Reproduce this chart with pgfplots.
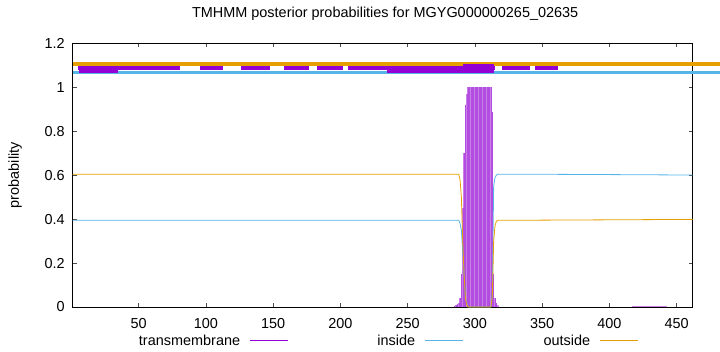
\documentclass[border=0pt]{standalone}
\usepackage{fontspec}
\setmainfont{Liberation Sans}
\usepackage{pgfplots}
\pgfplotsset{compat=1.18}
\definecolor{tmviolet}{RGB}{148,0,211}
\definecolor{insideblue}{RGB}{86,180,233}
\definecolor{outsideorange}{RGB}{230,159,0}
\pgfplotsset{
  tmleg/.style={legend image code/.code={\fill[fill=tmviolet, draw=none] (0bp,-0.5bp) rectangle (38bp,0.5bp);}},
  inleg/.style={legend image code/.code={\fill[fill=insideblue, draw=none] (0bp,-0.5bp) rectangle (38bp,0.5bp);}},
  outleg/.style={legend image code/.code={\fill[fill=outsideorange, draw=none] (0bp,-0.5bp) rectangle (38bp,0.5bp);}},
}
\begin{document}
\fontsize{14.5}{17}\selectfont
\begin{tikzpicture}
\begin{axis}[
  at={(72.7bp,45bp)}, anchor=south west,
  scale only axis, width=620bp, height=263.5bp,
  xmin=1, xmax=462, ymin=0, ymax=1.2,
  xtick={50,100,150,200,250,300,350,400,450},
  ytick={0,0.2,0.4,0.6,0.8,1,1.2},
  tick align=inside, major tick length=4bp,
  tick style={black!70, line width=0.6bp},
  axis line style={black, line width=0.8bp},
  clip=false,
  /pgf/number format/assume math mode=true,
  ticklabel style={font=\fontsize{14.5}{17}\selectfont},
  yticklabel style={xshift=-3bp},
  xticklabel style={yshift=-6bp},
  title={TMHMM posterior probabilities for MGYG000000265\_02635},
  title style={at={(axis description cs:0.504,1.089)}, anchor=center, font=\fontsize{14.5}{17}\selectfont},
  ylabel={probability},
  ylabel style={at={(axis description cs:-0.093,0.5)}, anchor=center, font=\fontsize{14.5}{17}\selectfont},
  legend columns=3, legend plot pos=right,
  legend style={at={(axis description cs:0.081,-0.129)}, anchor=west, draw=none, fill=none,
    inner sep=0pt, column sep=10bp, font=\fontsize{14.5}{17}\selectfont,
    nodes={text width=117bp, align=right, inner sep=0pt}},
]
% transmembrane posterior as impulses (light body plus darker strokes)
\addplot[ycomb, draw=tmviolet!50!white, line width=1.35bp, forget plot] coordinates {
(285,0.005)(286,0.008)(287,0.012)(288,0.02)(289,0.04)(290,0.15)(291,0.45)(292,0.7)(293,0.92)(294,0.97)
(295,1)(296,1)(297,1)(298,1)(299,1)(300,1)(301,1)(302,1)(303,1)(304,1)(305,1)(306,1)(307,1)(308,1)(309,1)(310,1)(311,1)(312,1)
(313,0.89)(314,0.15)(315,0.04)(316,0.02)(317,0.01)
};
\addplot[ycomb, draw=tmviolet, line width=0.35bp, opacity=0.4, forget plot] coordinates {
(285,0.005)(286,0.008)(287,0.012)(288,0.02)(289,0.04)(290,0.15)(291,0.45)(292,0.7)(293,0.92)(294,0.97)
(295,1)(296,1)(297,1)(298,1)(299,1)(300,1)(301,1)(302,1)(303,1)(304,1)(305,1)(306,1)(307,1)(308,1)(309,1)(310,1)(311,1)(312,1)
(313,0.89)(314,0.15)(315,0.04)(316,0.02)(317,0.01)
};
\addplot[draw=tmviolet, line width=0.6bp, opacity=0.5, forget plot] coordinates {
(417,0.003)(420,0.003)(425,0.003)(430,0.003)(435,0.003)(440,0.003)(443,0.003)
};
% inside
\addplot[draw=insideblue, line width=0.8bp, forget plot] coordinates {
(1,0.395)(150,0.395)(286,0.395)(288,0.395)(289,0.38)(290,0.35)(291,0.25)(292,0.15)(293,0.04)(294,0.02)(295,0)
(312,0)(313,0.06)(314,0.55)(315,0.59)(316,0.6)(317,0.605)(330,0.605)(400,0.603)(462,0.601)
};
% outside
\addplot[draw=outsideorange, line width=0.8bp, forget plot] coordinates {
(1,0.605)(150,0.605)(286,0.605)(288,0.605)(289,0.58)(290,0.5)(291,0.3)(292,0.15)(293,0.04)(294,0.01)(295,0)
(312,0)(313,0.05)(314,0.3)(315,0.37)(316,0.39)(317,0.395)(330,0.395)(400,0.397)(462,0.399)
};
\addlegendimage{tmleg}
\addlegendentry{transmembrane}
\addlegendimage{inleg}
\addlegendentry{inside}
\addlegendimage{outleg}
\addlegendentry{outside}
% topology bars at the top
\addplot[draw=outsideorange, line width=3.3bp, forget plot] coordinates {(1,1.107)(482,1.107)};
\addplot[draw=insideblue, line width=2.7bp, forget plot] coordinates {(1,1.068)(482,1.068)};
\addplot[draw=tmviolet, line width=4bp, forget plot] coordinates {(5,1.087)(81,1.087)};
\addplot[draw=tmviolet, line width=4bp, forget plot] coordinates {(96,1.087)(113,1.087)};
\addplot[draw=tmviolet, line width=4bp, forget plot] coordinates {(126,1.087)(148,1.087)};
\addplot[draw=tmviolet, line width=4bp, forget plot] coordinates {(158,1.087)(177,1.087)};
\addplot[draw=tmviolet, line width=4bp, forget plot] coordinates {(183,1.087)(202,1.087)};
\addplot[draw=tmviolet, line width=4bp, forget plot] coordinates {(206,1.087)(315,1.087)};
\addplot[draw=tmviolet, line width=4bp, forget plot] coordinates {(320,1.087)(341,1.087)};
\addplot[draw=tmviolet, line width=4bp, forget plot] coordinates {(345,1.087)(362,1.087)};
\addplot[draw=tmviolet, line width=3bp, forget plot] coordinates {(6,1.073)(35,1.073)};
\addplot[draw=tmviolet, line width=3bp, forget plot] coordinates {(235,1.073)(314,1.073)};
\addplot[draw=tmviolet, line width=3bp, forget plot] coordinates {(291,1.100)(314,1.100)};
\end{axis}
\pgfresetboundingbox
\useasboundingbox (0,0) rectangle (720bp,352bp);
\end{tikzpicture}
\end{document}
